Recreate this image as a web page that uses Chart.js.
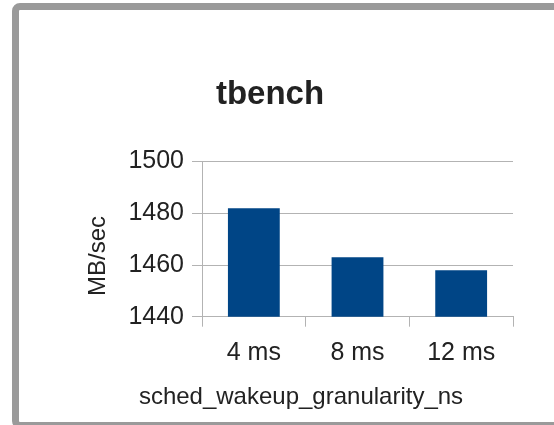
<!DOCTYPE html>
<html lang="en">
<head>
    <meta charset="UTF-8">
    <title>tbench</title>
    <script src="https://cdn.jsdelivr.net/npm/chart.js"></script>
    <style>
        body, html {
            margin: 0;
            padding: 0;
            width: 554px;
            height: 425px;
            overflow: hidden;
            background: #fff;
            font-family: "Liberation Sans", Arial, sans-serif;
        }
        #frame {
            position: absolute;
            left: 12px;
            top: 3px;
            width: 600px;
            height: 412px;
            border: 7px solid #9a9a9a;
            border-radius: 8px;
        }
        #chart {
            position: absolute;
            left: 27px;
            top: 0;
        }
    </style>
</head>
<body>
    <div id="frame"></div>
    <canvas id="chart" width="488" height="425"></canvas>

    <script>
        // chart data
        const categories = ['4 ms', '8 ms', '12 ms'];
        const throughput = [1482, 1463, 1458];
        const yTicks = [1440, 1460, 1480, 1500];
        const xTitle = 'sched_wakeup_granularity_ns';
        const yTitle = 'MB/sec';

        const gridGrey = '#b3b3b3';
        const textColor = '#222';
        const fontFamily = '"Liberation Sans", Arial, sans-serif';

        // axis titles are not centred on the plot in the original, so draw them here
        const axisTitles = {
            id: 'axisTitles',
            afterDraw(chart) {
                const ctx = chart.ctx;
                ctx.save();
                ctx.fillStyle = textColor;
                ctx.font = '24px ' + fontFamily;
                ctx.textAlign = 'center';
                ctx.textBaseline = 'alphabetic';
                ctx.fillText(xTitle, 274, 404);
                ctx.translate(78, 256);
                ctx.rotate(-Math.PI / 2);
                ctx.fillText(yTitle, 0, 0);
                ctx.restore();
            }
        };

        new Chart(document.getElementById('chart'), {
            type: 'bar',
            data: {
                labels: categories,
                datasets: [{
                    label: yTitle,
                    data: throughput,
                    backgroundColor: '#004586',
                    borderWidth: 0,
                    barPercentage: 0.5,
                    categoryPercentage: 1.0
                }]
            },
            plugins: [axisTitles],
            options: {
                responsive: false,
                animation: false,
                layout: { padding: { left: 0, right: 2, top: 0, bottom: 0 } },
                plugins: {
                    legend: { display: false },
                    tooltip: { enabled: false },
                    title: {
                        display: true,
                        text: 'tbench',
                        color: textColor,
                        font: { family: fontFamily, size: 33, weight: 'bold' },
                        padding: { top: 75, bottom: 47 }
                    }
                },
                scales: {
                    x: {
                        offset: true,
                        afterFit: scale => { scale.height += 46.3; },
                        grid: {
                            offset: true,
                            color: ctx => (ctx.index === 0 || ctx.index === categories.length) ? gridGrey : 'transparent',
                            tickColor: gridGrey,
                            tickLength: 10,
                            lineWidth: 1
                        },
                        border: { display: true, color: gridGrey },
                        ticks: {
                            color: textColor,
                            padding: 11,
                            font: { family: fontFamily, size: 25 }
                        }
                    },
                    y: {
                        min: yTicks[0],
                        max: yTicks[yTicks.length - 1],
                        afterBuildTicks: axis => {
                            axis.ticks = yTicks.map(v => ({ value: v }));
                        },
                        afterFit: scale => { scale.width += 93.4; },
                        grid: {
                            color: gridGrey,
                            tickColor: gridGrey,
                            tickLength: 10
                        },
                        border: { display: true, color: gridGrey },
                        ticks: {
                            color: textColor,
                            padding: 8,
                            font: { family: fontFamily, size: 25 },
                            callback: v => String(v)
                        }
                    }
                }
            }
        });
    </script>
</body>
</html>
